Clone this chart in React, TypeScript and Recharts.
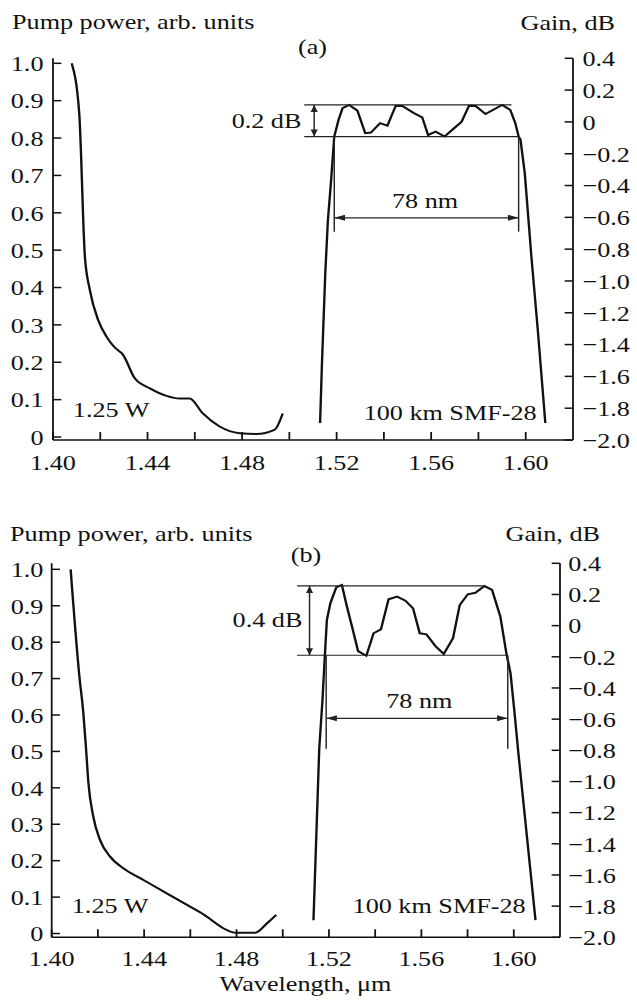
import React from "react";
import { LineChart, Line, XAxis, YAxis, ReferenceLine, ReferenceDot } from "recharts";

// wavelength (µm) vs pump power (arb. units)
const pumpA: [number, number][] = [
  [1.4079, 1.0], [1.4111, 0.866], [1.4135, 0.482], [1.4156, 0.393], [1.4191, 0.313],
  [1.4227, 0.268], [1.4283, 0.228], [1.429, 0.225], [1.4346, 0.157], [1.441, 0.13],
  [1.448, 0.11], [1.4536, 0.103], [1.4578, 0.103], [1.4634, 0.063], [1.4705, 0.028],
  [1.479, 0.01], [1.486, 0.008], [1.4937, 0.019], [1.4972, 0.063],
];

// wavelength (µm) vs gain (dB)
const gainA: [number, number][] = [
  [1.513, -1.893], [1.5138, -1.516], [1.5152, -0.95], [1.5163, -0.62], [1.5176, -0.38],
  [1.519, -0.092], [1.5208, 0.012], [1.5225, 0.086], [1.5253, 0.107], [1.5288, 0.071],
  [1.5321, -0.071], [1.5345, -0.067], [1.5384, -0.008], [1.5415, -0.023], [1.545, 0.102],
  [1.5478, 0.1], [1.5527, 0.055], [1.5562, 0.029], [1.5587, -0.082], [1.5619, -0.061],
  [1.5657, -0.092], [1.5692, -0.046], [1.5729, 0.002], [1.576, 0.102], [1.5788, 0.1],
  [1.583, 0.05], [1.59, 0.107], [1.5935, 0.075], [1.5956, -0.008], [1.597, -0.092],
  [1.5978, -0.113], [1.5996, -0.322], [1.6024, -0.846], [1.6051, -1.307], [1.6083, -1.893],
];

const pumpB: [number, number][] = [
  [1.4082, 1.0], [1.412, 0.705], [1.4137, 0.605], [1.4149, 0.504], [1.4159, 0.413],
  [1.418, 0.321], [1.4209, 0.257], [1.4253, 0.211], [1.431, 0.179], [1.4397, 0.147],
  [1.4498, 0.11], [1.4643, 0.058], [1.4802, 0.002], [1.4881, 0.002], [1.4932, 0.028],
  [1.4972, 0.051],
];

const gainB: [number, number][] = [
  [1.5133, -1.89], [1.5158, -0.79], [1.5172, -0.477], [1.5182, -0.2], [1.5191, 0.036],
  [1.5206, 0.143], [1.5232, 0.246], [1.5256, 0.261], [1.5278, 0.121], [1.53, -0.007],
  [1.5326, -0.163], [1.5362, -0.193], [1.5393, -0.049], [1.5425, -0.024], [1.5458, 0.169],
  [1.5495, 0.186], [1.5531, 0.16], [1.5564, 0.111], [1.5593, -0.049], [1.5622, -0.056],
  [1.5661, -0.131], [1.5697, -0.182], [1.5737, -0.081], [1.5766, 0.132], [1.5801, 0.201],
  [1.5834, 0.211], [1.5873, 0.254], [1.5906, 0.229], [1.5942, 0.057], [1.5968, -0.178],
  [1.5986, -0.306], [1.6005, -0.585], [1.602, -0.82], [1.6094, -1.89],
];

const xTicks = [1.4, 1.42, 1.44, 1.46, 1.48, 1.5, 1.52, 1.54, 1.56, 1.58, 1.6];
const pumpTicks = [0, 0.1, 0.2, 0.3, 0.4, 0.5, 0.6, 0.7, 0.8, 0.9, 1.0];
const gainTicks = [-2.0, -1.8, -1.6, -1.4, -1.2, -1.0, -0.8, -0.6, -0.4, -0.2, 0, 0.2, 0.4];

// flatness band [top, bottom] dB, 78 nm edges, arrow level, line bottom
const bandA = { top: 0.107, bottom: -0.092, x1: 1.519, x2: 1.597, arrowY: -0.603, lineEnd: -0.69, start: 1.5063, topEnd: 1.594, vx: 1.5105, label: "0.2 dB" };
const bandB = { top: 0.255, bottom: -0.19, x1: 1.5188, x2: 1.5974, arrowY: -0.595, lineEnd: -0.79, start: 1.5062, topEnd: 1.5869, vx: 1.5116, label: "0.4 dB" };

const S = 1.19; // horizontal stretch of the reference
const W = 637 / S;
const FONT = "'Liberation Serif', 'Times New Roman', serif";
const INK = "#111";

const toPts = (d: [number, number][]) => d.map(([x, y]) => ({ x, y }));
const fmtX = (v: number, i: number) => (i % 2 === 0 ? v.toFixed(2) : "");
const fmtPump = (v: number) => (v === 0 ? "0" : v.toFixed(1));
const fmtGain = (v: number) => (v === 0 ? "0" : v < 0 ? "\u2212" + Math.abs(v).toFixed(1) : v.toFixed(1));

const arrow = (len: number) => (p: any) => {
  const { x1, y1, x2, y2 } = p;
  const a = Math.atan2(y2 - y1, x2 - x1);
  const head = (x: number, y: number, ang: number) => {
    const w = 3;
    const bx = x - len * Math.cos(ang);
    const by = y - len * Math.sin(ang);
    return `M${x},${y}L${bx - w * Math.sin(ang)},${by + w * Math.cos(ang)}L${bx + w * Math.sin(ang)},${by - w * Math.cos(ang)}Z`;
  };
  return (
    <g>
      <line x1={x1} y1={y1} x2={x2} y2={y2} stroke="#222" strokeWidth={1.2} />
      <path d={head(x2, y2, a)} fill="#222" />
      <path d={head(x1, y1, a + Math.PI)} fill="#222" />
    </g>
  );
};

const textAt = (value: string, anchor: "start" | "middle" | "end") => (p: any) => (
  <text x={p.cx} y={p.cy} textAnchor={anchor} fontFamily={FONT} fontSize={22} fill={INK}>
    {value}
  </text>
);

const seg = (x1: number, y1: number, x2: number, y2: number) => [
  { x: x1, y: y1 },
  { x: x2, y: y2 },
];

interface PanelProps {
  pump: [number, number][];
  gain: [number, number][];
  band: typeof bandA;
  height: number;
  top: number;
  bottom: number;
  leftW: number;
  rightW: number;
  xH: number;
  xMargin: number;
  yMargin: number;
  pumpDomain: [number, number];
  txt: { dbY: number; dbX: number; nmY: number; nmX: number; wY: number; wX: number; smfY: number; smfX: number };
}

function Panel(p: PanelProps) {
  const b = p.band;
  const line = { stroke: "#222", strokeWidth: 1.2 };
  return (
    <LineChart width={W} height={p.height} margin={{ top: p.top, right: 0, bottom: p.bottom, left: 0 }}>
      <XAxis
        type="number"
        dataKey="x"
        domain={[1.4, 1.62]}
        allowDataOverflow
        ticks={xTicks}
        interval={0}
        tickFormatter={fmtX}
        tickSize={-8}
        tickMargin={p.xMargin}
        height={p.xH}
        stroke={INK}
        strokeWidth={1.5}
        tick={{ fill: INK, fontSize: 22, fontFamily: FONT }}
      />
      <YAxis
        yAxisId="pump"
        type="number"
        domain={p.pumpDomain}
        allowDataOverflow
        ticks={pumpTicks}
        interval={0}
        tickFormatter={fmtPump}
        tickSize={-7}
        tickMargin={p.yMargin}
        width={p.leftW}
        stroke={INK}
        strokeWidth={1.5}
        tick={{ fill: INK, fontSize: 22, fontFamily: FONT }}
      />
      <YAxis
        yAxisId="gain"
        orientation="right"
        type="number"
        domain={[-2.0, 0.4]}
        allowDataOverflow
        ticks={gainTicks}
        interval={0}
        tickFormatter={fmtGain}
        tickSize={-7}
        tickMargin={p.yMargin}
        width={p.rightW}
        stroke={INK}
        strokeWidth={1.5}
        tick={{ fill: INK, fontSize: 22, fontFamily: FONT }}
      />
      <Line yAxisId="pump" data={toPts(p.pump)} dataKey="y" type="monotone" stroke={INK} strokeWidth={2} dot={false} activeDot={false} isAnimationActive={false} />
      <Line yAxisId="gain" data={toPts(p.gain)} dataKey="y" type="linear" stroke={INK} strokeWidth={2} dot={false} activeDot={false} isAnimationActive={false} />

      {/* flatness band */}
      <ReferenceLine yAxisId="gain" segment={seg(b.start, b.top, b.topEnd, b.top)} {...line} />
      <ReferenceLine yAxisId="gain" segment={seg(b.start, b.bottom, b.x2, b.bottom)} {...line} />
      <ReferenceLine yAxisId="gain" segment={seg(b.vx, b.top, b.vx, b.bottom)} shape={arrow(7)} />
      {/* 78 nm width */}
      <ReferenceLine yAxisId="gain" segment={seg(b.x1, b.bottom, b.x1, b.lineEnd)} {...line} />
      <ReferenceLine yAxisId="gain" segment={seg(b.x2, b.bottom, b.x2, b.lineEnd)} {...line} />
      <ReferenceLine yAxisId="gain" segment={seg(b.x1, b.arrowY, b.x2, b.arrowY)} shape={arrow(9)} />

      <ReferenceDot yAxisId="gain" x={p.txt.dbX} y={p.txt.dbY} r={1} shape={textAt(b.label, "end")} />
      <ReferenceDot yAxisId="gain" x={p.txt.nmX} y={p.txt.nmY} r={1} shape={textAt("78 nm", "middle")} />
      <ReferenceDot yAxisId="pump" x={p.txt.wX} y={p.txt.wY} r={1} shape={textAt("1.25 W", "start")} />
      <ReferenceDot yAxisId="gain" x={p.txt.smfX} y={p.txt.smfY} r={1} shape={textAt("100 km SMF-28", "end")} />
    </LineChart>
  );
}

export default function App() {
  const t = { fontFamily: FONT, fontSize: 22, fill: INK };
  return (
    <div style={{ position: "absolute", left: 0, top: 0, width: 637, height: 1001, overflow: "hidden", background: "#fff" }}>
      <div style={{ position: "relative", width: W, height: 1001, transform: `scaleX(${S})`, transformOrigin: "0 0" }}>
        <div style={{ position: "absolute", left: 0, top: 0 }}>
          <Panel
            pump={pumpA}
            gain={gainA}
            band={bandA}
            height={490}
            top={58.3}
            bottom={20}
            leftW={53 / S}
            rightW={W - 573 / S}
            xH={30}
            xMargin={22}
            yMargin={15}
            pumpDomain={[-0.008, 1.0134]}
            txt={{ dbX: 1.5051, dbY: -0.038, nmX: 1.5574, nmY: -0.54, wX: 1.4084, wY: 0.054, smfX: 1.6046, smfY: -1.872 }}
          />
        </div>
        <div style={{ position: "absolute", left: 0, top: 490 }}>
          <Panel
            pump={pumpB}
            gain={gainB}
            band={bandB}
            height={511}
            top={73.3}
            bottom={23.7}
            leftW={51.7 / S}
            rightW={W - 560 / S}
            xH={40}
            xMargin={21}
            yMargin={14}
            pumpDomain={[-0.0104, 1.0165]}
            txt={{ dbX: 1.5085, dbY: -0.007, nmX: 1.5591, nmY: -0.529, wX: 1.4087, wY: 0.0555, smfX: 1.6051, smfY: -1.846 }}
          />
        </div>
        <svg width={W} height={1001} style={{ position: "absolute", left: 0, top: 0, pointerEvents: "none" }}>
          <text x={12 / S} y={29.3} {...t}>Pump power, arb. units</text>
          <text x={615 / S} y={30} textAnchor="end" {...t}>Gain, dB</text>
          <text x={312.5 / S} y={54} textAnchor="middle" {...t}>(a)</text>
          <text x={10 / S} y={540.7} {...t}>Pump power, arb. units</text>
          <text x={600 / S} y={540.7} textAnchor="end" {...t}>Gain, dB</text>
          <text x={306 / S} y={562} textAnchor="middle" {...t}>(b)</text>
          <text x={305.5 / S} y={991} textAnchor="middle" {...t}>Wavelength, μm</text>
        </svg>
      </div>
    </div>
  );
}
